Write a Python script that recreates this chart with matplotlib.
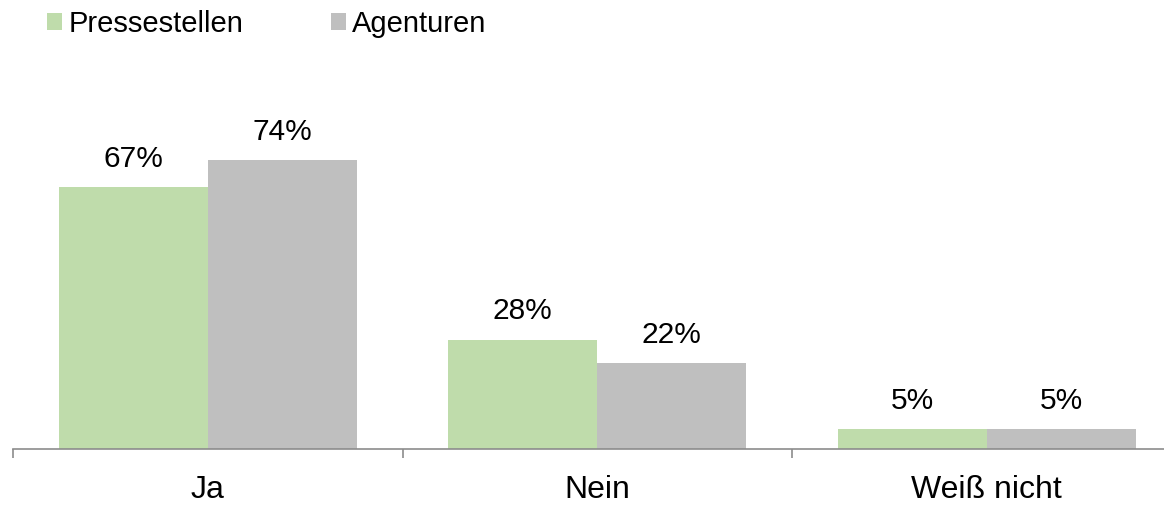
import matplotlib.pyplot as plt
import numpy as np

plt.rcParams['font.family'] = ['Liberation Sans', 'DejaVu Sans']

categories = ['Ja', 'Nein', 'Weiß nicht']
pressestellen = [67, 28, 5]
agenturen = [74, 22, 5]
series_names = ['Pressestellen', 'Agenturen']

green = '#BFDCAB'
grey = '#BFBFBF'
axis_grey = '#8C8C8C'

fig = plt.figure(figsize=(11.64, 5.05), dpi=100)
ax = fig.add_axes([13 / 1164, 56 / 505, 1168.5 / 1164, 391 / 505])

x = np.arange(len(categories))
w = 0.383
b1 = ax.bar(x - w / 2, pressestellen, w, color=green, label=series_names[0])
b2 = ax.bar(x + w / 2, agenturen, w, color=grey, label=series_names[1])

# Beschriftungen über den Balken
for bars, vals in ((b1, pressestellen), (b2, agenturen)):
    for rect, v in zip(bars, vals):
        ax.annotate(f'{v}%', (rect.get_x() + rect.get_width() / 2, rect.get_height()),
                    xytext=(0, 14.5), textcoords='offset points',
                    ha='center', va='baseline', fontsize=21.5, color='black')

ax.set_xlim(-0.5, len(categories) - 0.5)
ax.set_ylim(0, 100)

# Trennstriche zwischen Kategorien, Beschriftung in der Mitte
ax.set_xticks(np.arange(-0.5, len(categories)), labels=[])
ax.set_xticks(x, labels=categories, minor=True)
ax.tick_params(axis='x', which='major', direction='out', length=6.5, width=1.2, color=axis_grey)
ax.tick_params(axis='x', which='minor', length=0, pad=19, labelsize=23)
ax.set_yticks([])

for s in ['top', 'right', 'left']:
    ax.spines[s].set_visible(False)
ax.spines['bottom'].set_color(axis_grey)
ax.spines['bottom'].set_linewidth(1.2)

fig.legend(loc='upper left', bbox_to_anchor=(0.018, 1.032), ncol=2, frameon=False,
           fontsize=21, handlelength=0.52, handleheight=0.52, handletextpad=0.2,
           columnspacing=3.0)

fig.savefig('out.png', dpi=100)
